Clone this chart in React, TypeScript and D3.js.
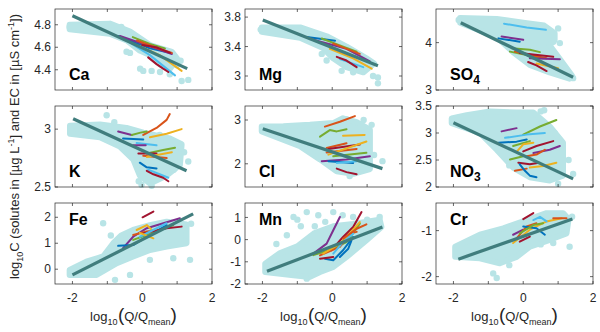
import React from "react";
import * as d3 from "d3";

type Pt = [number, number];
type Seg = { site: number; pts: Pt[] };

// ---------- shared ----------
const panelNames = ["Ca", "Mg", "SO4", "K", "Cl", "NO3", "Fe", "Mn", "Cr"];
const xTicks = [-2, -1, 0, 1, 2];
const xTickLabels = [-2, 0, 2];
const xDomain: Pt = [-2.5, 2];
const siteColors = ["#0072BD", "#D95319", "#EDB120", "#7E2F8E", "#77AC30", "#4DBEEE", "#A2142F"];

const yDomains: Pt[] = [
  [4.22, 4.94], [2.81, 3.91], [3, 4.71],
  [2.5, 3.2], [1.47, 3.32], [2, 3.5],
  [-0.57, 2.55], [-2, 1.65], [-2.16, -0.4],
];
const yTicks: number[][] = [
  [4.4, 4.6, 4.8], [3, 3.4, 3.8], [3, 4],
  [2.5, 3], [2, 3], [2, 2.5, 3, 3.5],
  [0, 1, 2], [-2, -1, 0, 1], [-2, -1],
];

// ---------- Ca ----------
const caCloud: Pt[] = [[-2.08, 4.8], [-0.93, 4.81], [-0.35, 4.74], [0.22, 4.62], [0.85, 4.56], [1.0, 4.5], [0.8, 4.41], [0.5, 4.45], [0.22, 4.53], [-0.07, 4.57], [-0.44, 4.66], [-0.93, 4.72], [-2.08, 4.76]];
const caDots: Pt[] = [[-2.08, 4.78], [-0.06, 4.41], [0.03, 4.39], [0.27, 4.39], [0.51, 4.38], [0.79, 4.36], [1.13, 4.3], [1.32, 4.31], [0.99, 4.44], [-0.45, 4.56], [-0.35, 4.55], [1.1, 4.48], [-1.5, 4.8], [-0.6, 4.78]];
const caTrend: Pt[] = [[-2.0, 4.88], [1.29, 4.41]];
const caLines: Seg[] = [
  { site: 0, pts: [[-0.69, 4.7], [0.22, 4.59], [0.79, 4.55]] },
  { site: 3, pts: [[-0.64, 4.7], [-0.07, 4.64], [0.85, 4.54]] },
  { site: 4, pts: [[-0.27, 4.69], [0.22, 4.63], [0.65, 4.59]] },
  { site: 1, pts: [[-0.15, 4.66], [0.36, 4.6], [0.85, 4.55]] },
  { site: 2, pts: [[-0.07, 4.61], [0.5, 4.53], [1.13, 4.39]] },
  { site: 5, pts: [[-0.35, 4.64], [0.22, 4.53], [0.94, 4.35]] },
  { site: 6, pts: [[0.0, 4.62], [0.4, 4.6], [0.8, 4.55]] },
  { site: 6, pts: [[0.17, 4.51], [0.41, 4.45], [0.6, 4.41], [0.75, 4.38]] },
];

// ---------- Mg ----------
const mgCloud: Pt[] = [[-2.02, 3.66], [-0.92, 3.66], [-0.16, 3.54], [0.41, 3.4], [0.98, 3.24], [1.2, 3.17], [0.89, 3.05], [0.41, 3.12], [0.03, 3.24], [-0.26, 3.38], [-0.92, 3.52], [-2.02, 3.6]];
const mgDots: Pt[] = [[-0.16, 3.21], [0.27, 3.07], [1.31, 2.98], [1.31, 2.9], [1.17, 3.0], [0.6, 3.05], [-0.3, 3.3], [-2.05, 3.63]];
const mgTrend: Pt[] = [[-1.99, 3.76], [1.31, 3.14]];
const mgLines: Seg[] = [
  { site: 0, pts: [[-0.73, 3.53], [0.08, 3.48]] },
  { site: 3, pts: [[-0.6, 3.5], [0.41, 3.37], [1.08, 3.2]] },
  { site: 4, pts: [[-0.3, 3.51], [0.2, 3.42], [0.7, 3.33]] },
  { site: 1, pts: [[0.03, 3.44], [0.79, 3.3]] },
  { site: 2, pts: [[-0.07, 3.37], [0.6, 3.24], [1.13, 3.1]] },
  { site: 5, pts: [[0.22, 3.23], [0.89, 3.12]] },
  { site: 6, pts: [[0.13, 3.26], [0.41, 3.21], [0.7, 3.12]] },
];

// ---------- SO4 ----------
const so4Cloud: Pt[] = [[-1.81, 4.52], [-0.76, 4.5], [0.1, 4.41], [0.6, 4.36], [0.9, 4.2], [0.9, 4.05], [0.75, 3.95], [1.0, 3.7], [1.4, 3.3], [1.33, 3.24], [0.76, 3.37], [0.19, 3.53], [-0.29, 3.8], [-0.76, 4.12], [-1.81, 4.42]];
const so4Dots: Pt[] = [[1.43, 3.25], [0.95, 3.42], [0.86, 4.02], [1.05, 3.99], [1.0, 4.3], [1.1, 3.55], [-1.85, 4.48]];
const so4Trend: Pt[] = [[-1.79, 4.42], [1.43, 3.27]];
const so4Lines: Seg[] = [
  { site: 5, pts: [[-0.55, 4.4], [0.1, 4.32], [0.65, 4.27]] },
  { site: 3, pts: [[-0.62, 4.13], [0.0, 4.06]] },
  { site: 0, pts: [[-0.71, 4.09], [-0.1, 4.02]] },
  { site: 4, pts: [[-0.33, 3.88], [0.19, 3.85], [0.48, 3.8]] },
  { site: 4, pts: [[-0.38, 3.81], [0.48, 3.68]] },
  { site: 1, pts: [[-0.24, 3.81], [0.67, 3.67]] },
  { site: 6, pts: [[-0.1, 3.78], [0.86, 3.7]] },
  { site: 3, pts: [[0.19, 3.67], [1.05, 3.65]] },
  { site: 2, pts: [[0.38, 3.56], [1.0, 3.46]] },
  { site: 6, pts: [[0.14, 3.59], [0.38, 3.52], [0.67, 3.4]] },
];

// ---------- K ----------
const kCloud: Pt[] = [[-2.07, 3.03], [-1.21, 3.04], [-0.45, 3.01], [0.03, 2.97], [0.79, 2.92], [1.13, 2.87], [1.08, 2.69], [0.7, 2.6], [0.22, 2.53], [-0.07, 2.6], [-0.26, 2.74], [-0.64, 2.85], [-1.21, 2.93], [-2.07, 2.96]];
const kDots: Pt[] = [[1.32, 2.72], [-0.02, 2.52], [0.27, 2.51], [-1.02, 3.12], [-0.8, 3.06], [1.2, 2.8], [0.5, 2.95], [-0.1, 2.55], [0.9, 2.65]];
const kTrend: Pt[] = [[-1.98, 3.09], [1.27, 2.64]];
const kLines: Seg[] = [
  { site: 1, pts: [[0.03, 2.95], [0.41, 3.01], [0.7, 3.08], [0.79, 3.13]] },
  { site: 2, pts: [[0.22, 2.93], [0.7, 2.96], [1.13, 3.0]] },
  { site: 3, pts: [[-0.69, 2.98], [-0.3, 2.95]] },
  { site: 4, pts: [[-0.3, 2.95], [-0.05, 2.97], [0.13, 2.98]] },
  { site: 0, pts: [[-0.55, 2.92], [0.03, 2.91]] },
  { site: 5, pts: [[-0.16, 2.88], [0.41, 2.86]] },
  { site: 3, pts: [[-0.26, 2.86], [0.1, 2.86]] },
  { site: 4, pts: [[0.13, 2.79], [0.6, 2.82], [0.94, 2.84]] },
  { site: 6, pts: [[-0.11, 2.79], [0.41, 2.79]] },
  { site: 1, pts: [[0.03, 2.77], [0.7, 2.75]] },
  { site: 2, pts: [[0.13, 2.76], [0.5, 2.78], [0.85, 2.8]] },
  { site: 0, pts: [[-0.07, 2.71], [0.13, 2.67], [0.41, 2.66]] },
  { site: 5, pts: [[0.17, 2.65], [0.5, 2.61], [0.75, 2.58]] },
  { site: 6, pts: [[0.13, 2.64], [0.32, 2.61], [0.6, 2.58], [0.75, 2.55]] },
];

// ---------- Cl ----------
const clCloud: Pt[] = [[-2.02, 2.85], [-1.4, 2.86], [-0.64, 2.89], [0.03, 2.93], [0.31, 3.04], [0.7, 2.95], [1.08, 2.78], [1.08, 1.88], [0.6, 1.77], [0.13, 1.83], [-0.35, 2.1], [-0.92, 2.4], [-2.02, 2.74]];
const clDots: Pt[] = [[1.44, 2.06], [1.13, 2.89], [1.0, 2.73], [0.9, 3.0], [0.5, 1.72], [1.2, 2.2], [0.4, 3.02]];
const clTrend: Pt[] = [[-1.99, 2.8], [1.44, 1.89]];
const clLines: Seg[] = [
  { site: 1, pts: [[-0.21, 2.85], [0.22, 2.96], [0.65, 3.09]] },
  { site: 4, pts: [[-0.35, 2.62], [-0.07, 2.77], [0.13, 2.74], [0.41, 2.79]] },
  { site: 2, pts: [[0.31, 2.64], [0.93, 2.66]] },
  { site: 1, pts: [[-0.16, 2.36], [0.41, 2.47]] },
  { site: 6, pts: [[-0.11, 2.34], [0.79, 2.44]] },
  { site: 1, pts: [[-0.16, 2.26], [0.7, 2.34]] },
  { site: 2, pts: [[-0.11, 2.21], [0.98, 2.51]] },
  { site: 4, pts: [[0.03, 2.17], [0.98, 2.25]] },
  { site: 3, pts: [[-0.3, 2.06], [0.41, 2.1], [1.08, 2.17]] },
  { site: 0, pts: [[-0.11, 2.06], [0.6, 2.02]] },
  { site: 5, pts: [[0.13, 2.02], [0.7, 2.06]] },
  { site: 6, pts: [[0.13, 1.89], [0.41, 1.81], [0.7, 1.76]] },
];

// ---------- NO3 ----------
const no3Cloud: Pt[] = [[-2.05, 3.27], [-1.62, 3.33], [-0.95, 3.4], [-0.19, 3.38], [0.29, 3.38], [0.76, 3.12], [1.14, 2.82], [1.14, 2.21], [0.76, 2.12], [0.19, 2.18], [-0.29, 2.36], [-0.76, 2.69], [-1.24, 3.0], [-2.05, 3.18]];
const no3Dots: Pt[] = [[1.43, 2.24], [1.0, 2.06], [0.5, 3.4], [0.9, 3.0], [1.3, 2.5], [-0.4, 2.4], [0.6, 3.42]];
const no3Trend: Pt[] = [[-2.0, 3.19], [1.43, 2.15]];
const no3Lines: Seg[] = [
  { site: 4, pts: [[0.0, 2.97], [0.48, 3.12], [0.95, 3.24]] },
  { site: 3, pts: [[-0.62, 3.03], [-0.19, 3.09]] },
  { site: 5, pts: [[-0.52, 2.91], [0.1, 2.97], [0.62, 3.0]] },
  { site: 0, pts: [[-0.71, 2.82], [-0.19, 2.84], [0.1, 2.88]] },
  { site: 4, pts: [[-0.29, 2.76], [0.19, 2.85]] },
  { site: 2, pts: [[-0.19, 2.65], [0.0, 2.79], [0.29, 2.82]] },
  { site: 6, pts: [[0.0, 2.66], [0.38, 2.76], [0.86, 2.85]] },
  { site: 3, pts: [[0.29, 2.63], [0.76, 2.69], [1.05, 2.76]] },
  { site: 1, pts: [[0.1, 2.57], [0.38, 2.6], [0.62, 2.69]] },
  { site: 4, pts: [[-0.38, 2.51], [0.0, 2.57]] },
  { site: 6, pts: [[-0.14, 2.45], [0.19, 2.42], [0.45, 2.45]] },
  { site: 2, pts: [[0.19, 2.36], [0.57, 2.39], [0.95, 2.45]] },
  { site: 1, pts: [[-0.24, 2.3], [0.1, 2.34]] },
  { site: 0, pts: [[-0.1, 2.42], [0.05, 2.3], [0.19, 2.21], [0.38, 2.18]] },
];

// ---------- Fe ----------
const feCloud: Pt[] = [[-2.08, -0.03], [-1.6, 0.29], [-1.12, 0.49], [-0.83, 1.0], [-0.6, 1.3], [-0.26, 1.51], [0.22, 1.7], [0.7, 1.83], [1.27, 1.72], [1.27, 1.0], [0.7, 0.87], [0.22, 0.74], [-0.26, 0.49], [-0.73, 0.23], [-1.31, -0.22], [-2.08, -0.22]];
const feDots: Pt[] = [[-0.78, -0.41], [-0.35, -0.22], [0.22, 0.36], [0.89, 0.42], [1.22, 1.06], [1.37, 0.36], [-1.12, 1.77], [-0.9, 1.3], [1.4, 1.75], [-1.8, 0.05], [-1.4, 0.0]];
const feTrend: Pt[] = [[-2.0, -0.22], [1.46, 2.13]];
const feLines: Seg[] = [
  { site: 6, pts: [[0.01, 2.0], [0.32, 2.22]] },
  { site: 3, pts: [[-0.55, 0.81], [-0.26, 1.25], [0.13, 1.58], [1.08, 1.96]] },
  { site: 0, pts: [[-0.69, 0.9], [-0.26, 0.93], [0.13, 1.25], [0.7, 1.7]] },
  { site: 2, pts: [[-0.16, 1.51], [0.13, 1.7], [0.32, 1.45]] },
  { site: 1, pts: [[-0.26, 1.32], [0.13, 1.45], [0.51, 1.51]] },
  { site: 4, pts: [[-0.26, 1.13], [0.41, 1.45], [0.89, 1.7]] },
  { site: 6, pts: [[0.03, 1.38], [0.7, 1.58], [1.13, 1.64]] },
  { site: 5, pts: [[-0.07, 1.25], [0.7, 1.77]] },
  { site: 2, pts: [[-0.07, 1.4], [0.32, 1.19]] },
];

// ---------- Mn ----------
const mnCloud: Pt[] = [[-1.92, -1.08], [-1.49, -0.6], [-1.0, -0.3], [-0.5, 0.3], [0.03, 0.6], [0.6, 0.7], [1.36, 0.9], [1.41, 0.57], [0.98, -0.03], [0.41, -0.78], [0.03, -1.23], [-0.35, -1.46], [-0.64, -1.68], [-1.11, -1.61], [-1.92, -1.46]];
const mnDots: Pt[] = [[-1.11, 1.02], [-0.73, 1.24], [0.03, 1.24], [0.6, 1.02], [1.36, 1.02], [-0.4, 1.1], [-0.9, 0.6], [-1.3, 0.2], [0.3, 1.1], [-0.2, 0.8], [-0.73, -1.76], [-1.54, -1.5], [1.2, 0.4], [-1.0, 0.9], [-1.6, -0.2], [-0.5, 0.6], [1.0, 0.9]];
const mnTrend: Pt[] = [[-1.87, -1.43], [1.44, 0.57]];
const mnLines: Seg[] = [
  { site: 6, pts: [[-0.02, -0.48], [0.31, 0.12], [0.6, 0.57], [0.84, 1.24]] },
  { site: 3, pts: [[-0.54, -0.63], [-0.16, -0.18], [0.03, 0.42], [0.22, 1.02]] },
  { site: 4, pts: [[-0.54, -0.7], [0.03, -0.41], [0.41, -0.11], [0.79, 0.72]] },
  { site: 1, pts: [[-0.35, -0.71], [0.22, -0.33], [0.51, 0.27], [0.7, 0.35]] },
  { site: 2, pts: [[-0.26, -0.63], [0.22, -0.18], [0.41, 0.12], [0.79, 0.79]] },
  { site: 0, pts: [[-0.21, -0.86], [0.03, -0.93], [0.31, -0.48], [0.6, 0.12]] },
  { site: 5, pts: [[0.03, -0.63], [0.31, -0.11], [0.6, 0.27]] },
  { site: 6, pts: [[-0.35, -0.86], [0.03, -0.78]] },
  { site: 0, pts: [[0.22, -0.78], [0.46, -0.41], [0.55, -0.05]] },
  { site: 1, pts: [[0.31, 0.04], [0.7, 0.49], [0.98, 0.69]] },
];

// ---------- Cr ----------
const crCloud: Pt[] = [[-1.95, -1.35], [-1.24, -1.09], [-0.57, -0.95], [0.0, -0.8], [0.67, -0.62], [1.14, -0.62], [1.3, -0.75], [1.24, -1.06], [0.76, -1.2], [0.19, -1.35], [-0.19, -1.57], [-0.67, -1.71], [-1.24, -1.6], [-1.95, -1.57]];
const crDots: Pt[] = [[-0.76, -2.03], [-0.86, -1.93], [1.33, -1.35], [0.86, -1.27], [0.5, -1.3], [1.4, -0.7], [-0.4, -1.75]];
const crTrend: Pt[] = [[-1.86, -1.62], [1.41, -0.75]];
const crLines: Seg[] = [
  { site: 6, pts: [[0.0, -0.75], [0.29, -0.62]] },
  { site: 3, pts: [[-0.29, -1.09], [0.0, -0.98]] },
  { site: 2, pts: [[-0.29, -1.27], [0.19, -0.98], [0.67, -0.8], [1.1, -0.73]] },
  { site: 1, pts: [[-0.19, -1.17], [0.1, -0.91], [0.38, -0.84]] },
  { site: 0, pts: [[0.0, -0.91], [0.38, -0.95], [0.62, -1.09]] },
  { site: 5, pts: [[0.29, -0.77], [0.48, -0.7], [0.67, -0.8]] },
  { site: 4, pts: [[-0.1, -1.06], [0.29, -0.88], [0.57, -0.84]] },
  { site: 6, pts: [[-0.1, -1.24], [0.19, -1.13]] },
  { site: 1, pts: [[0.86, -0.73], [1.24, -0.73]] },
];

const clouds = [caCloud, mgCloud, so4Cloud, kCloud, clCloud, no3Cloud, feCloud, mnCloud, crCloud];
const dots = [caDots, mgDots, so4Dots, kDots, clDots, no3Dots, feDots, mnDots, crDots];
const trends = [caTrend, mgTrend, so4Trend, kTrend, clTrend, no3Trend, feTrend, mnTrend, crTrend];
const lines = [caLines, mgLines, so4Lines, kLines, clLines, no3Lines, feLines, mnLines, crLines];

// ---------- layout ----------
const colLeft = [55, 245, 436];
const rowTop = [9, 106, 203];
const PW = 157;
const PH = 81;
const CLOUD = "#b8e4e6";
const TREND = "#407d7d";
const AX = "#262626";
const FONT = "'Liberation Sans', Arial, sans-serif";

const color = d3.scaleOrdinal<number, string>().domain(d3.range(7)).range(siteColors);

function PanelLabel({ name }: { name: string }) {
  const m = name.match(/^([A-Za-z]+?)(\d*)$/);
  const base = m ? m[1] : name;
  const sub = m ? m[2] : "";
  return (
    <>
      <tspan>{base}</tspan>
      {sub && <tspan dy={4} fontSize={12}>{sub}</tspan>}
    </>
  );
}

function Panel({ i }: { i: number }) {
  const r = Math.floor(i / 3);
  const c = i % 3;
  const x0 = colLeft[c];
  const y0 = rowTop[r];
  const x = d3.scaleLinear().domain(xDomain).range([x0, x0 + PW]);
  const y = d3.scaleLinear().domain(yDomains[i]).range([y0 + PH, y0]);
  const line = d3.line<Pt>().x((d) => x(d[0])).y((d) => y(d[1]));
  const cloudPath = d3.line<Pt>().x((d) => x(d[0])).y((d) => y(d[1])).curve(d3.curveLinearClosed);
  const labelY = r === 2 ? y0 + 22 : y0 + PH - 10;
  return (
    <g>
      <path d={cloudPath(clouds[i]) || ""} fill={CLOUD} stroke={CLOUD} strokeWidth={6} strokeLinejoin="round" />
      {dots[i].map((d, k) => (
        <circle key={k} cx={x(d[0])} cy={y(d[1])} r={3.2} fill={CLOUD} />
      ))}
      {lines[i].map((s, k) => (
        <path key={k} d={line(s.pts) || ""} fill="none" stroke={color(s.site)} strokeWidth={2} strokeLinejoin="round" strokeLinecap="round" />
      ))}
      <path d={line(trends[i]) || ""} stroke={TREND} strokeWidth={3.2} fill="none" />
      <rect x={x0} y={y0} width={PW} height={PH} fill="none" stroke={AX} strokeWidth={0.7} />
      {xTicks.map((t) => (
        <g key={"xt" + t}>
          <line x1={x(t)} x2={x(t)} y1={y0 + PH} y2={y0 + PH - 3} stroke={AX} strokeWidth={0.7} />
          <line x1={x(t)} x2={x(t)} y1={y0} y2={y0 + 3} stroke={AX} strokeWidth={0.7} />
        </g>
      ))}
      {yTicks[i].map((t) => (
        <g key={"yt" + t}>
          <line x1={x0} x2={x0 + 3} y1={y(t)} y2={y(t)} stroke={AX} strokeWidth={0.7} />
          <line x1={x0 + PW} x2={x0 + PW - 3} y1={y(t)} y2={y(t)} stroke={AX} strokeWidth={0.7} />
          <text x={x0 - 4} y={y(t) + 4.2} textAnchor="end" fontSize={12} fill={AX} fontFamily={FONT}>
            {t}
          </text>
        </g>
      ))}
      {r === 2 &&
        xTickLabels.map((t) => (
          <text key={"xl" + t} x={x(t)} y={y0 + PH + 18} textAnchor="middle" fontSize={12} fill={AX} fontFamily={FONT}>
            {t}
          </text>
        ))}
      {r === 2 && (
        <text x={x0 + PW / 2} y={y0 + PH + 37} textAnchor="middle" fontSize={13} fill={AX} fontFamily={FONT}>
          <tspan>log</tspan>
          <tspan dy={4} fontSize={9}>10</tspan>
          <tspan dy={-4} fontSize={19} dx={0.5}>(</tspan>
          <tspan>Q/Q</tspan>
          <tspan dy={4} fontSize={9}>mean</tspan>
          <tspan dy={-4} fontSize={19}>)</tspan>
        </text>
      )}
      <text x={x0 + 14} y={labelY} fontSize={16} fontWeight="bold" fill="#000" fontFamily={FONT}>
        <PanelLabel name={panelNames[i]} />
      </text>
    </g>
  );
}

export default function App() {
  return (
    <svg width={600} height={332} style={{ position: "absolute", left: 0, top: 0, background: "#fff" }}>
      {panelNames.map((_, i) => (
        <Panel key={i} i={i} />
      ))}
      <text transform="translate(19,146.5) rotate(-90)" textAnchor="middle" fontSize={13} fill={AX} fontFamily={FONT}>
        <tspan>log</tspan>
        <tspan dy={4} fontSize={9}>10</tspan>
        <tspan dy={-4}>C   (solutes in [µg L</tspan>
        <tspan dy={-5} fontSize={9}>-1</tspan>
        <tspan dy={5}>] and EC in [µS cm</tspan>
        <tspan dy={-5} fontSize={9}>-1</tspan>
        <tspan dy={5}>])</tspan>
      </text>
    </svg>
  );
}
